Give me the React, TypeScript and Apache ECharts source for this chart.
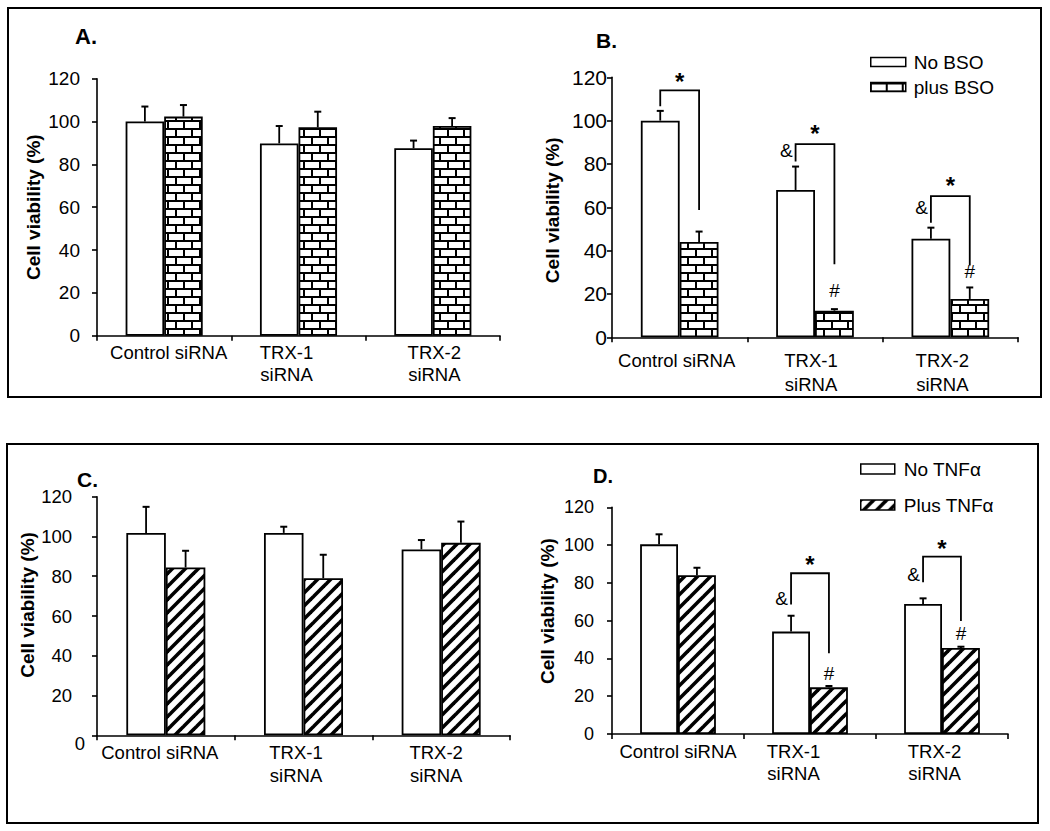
import React, { useEffect, useRef } from 'react';
import * as echarts from 'echarts';

const FONT = "'Liberation Sans', Arial, Helvetica, sans-serif";

const categories = ['Control siRNA', 'TRX-1\nsiRNA', 'TRX-2\nsiRNA'];

// Panel A (BSO, untreated comparison)
const aNoBSO = [100, 89.8, 87.5];
const aNoBSOErr = [107, 97.9, 91.1];
const aPlusBSO = [102.3, 97.3, 97.9];
const aPlusBSOErr = [107.7, 104.6, 101.6];

// Panel B
const bNoBSO = [100, 68, 45.5];
const bNoBSOErr = [104.5, 78.8, 50.6];
const bPlusBSO = [44, 12.3, 17.7];
const bPlusBSOErr = [48.8, 13, 23];
// brackets: [category, left leg bottom, top, right leg bottom]
const bBrackets = [[0, 106.6, 114, 58.8], [1, 81.1, 89.2, 33.7], [2, 52.9, 65.2, 33.1]];
const bStars = [[0, 120.4], [1, 96.5], [2, 72.6]];
const bAmps = [[1, 86], [2, 60]];
const bHashes = [[1, 21.8], [2, 30.3]];

// Panel C
const cNoTNF = [101.8, 101.8, 93.5];
const cNoTNFErr = [114.9, 104.9, 98.2];
const cPlusTNF = [84.4, 79, 96.8];
const cPlusTNFErr = [92.8, 90.8, 107.5];

// Panel D
const dNoTNF = [100.4, 54.2, 68.8];
const dNoTNFErr = [105.7, 62.6, 71.8];
const dPlusTNF = [84, 24.7, 45.5];
const dPlusTNFErr = [88, 25.4, 46.2];
const dBrackets = [[1, 68.6, 85.1, 42.7], [2, 80.3, 93.9, 59.8]];
const dStars = [[1, 92.5], [2, 100.6]];
const dAmps = [[1, 71.5], [2, 84.2]];
const dHashes = [[1, 31.8], [2, 53.3]];

const BAR_RATIO = 0.287;

function brickPattern(): any {
  const c = document.createElement('canvas');
  c.width = 16; c.height = 16;
  const g = c.getContext('2d')!;
  g.fillStyle = '#000'; g.fillRect(0, 0, 16, 16);
  g.fillStyle = '#fff';
  g.fillRect(1, 2, 14, 6);
  g.fillRect(9, 10, 7, 6);
  g.fillRect(0, 10, 7, 6);
  return { image: c, repeat: 'repeat', imageWidth: 16, imageHeight: 16 };
}

function hatchPattern(): any {
  const s = 13;
  const c = document.createElement('canvas');
  c.width = s; c.height = s;
  const g = c.getContext('2d')!;
  g.fillStyle = '#fff'; g.fillRect(0, 0, s, s);
  g.strokeStyle = '#000'; g.lineWidth = 3.6;
  for (const k of [-s, 0, s]) {
    g.beginPath(); g.moveTo(k - 2, s + 2); g.lineTo(k + s + 2, -2); g.stroke();
  }
  return { image: c, repeat: 'repeat', imageWidth: s, imageHeight: s };
}

function catLabel(shifts: number[], fontSize: number, lineHeight: number, margin: number) {
  const rich: any = {};
  shifts.forEach((s, i) => {
    rich['s' + i] = {
      fontSize, lineHeight, fontFamily: FONT, color: '#000',
      padding: s >= 0 ? [0, 0, 0, 2 * s] : [0, -2 * s, 0, 0],
    };
  });
  return {
    interval: 0, margin, color: '#000', fontSize, lineHeight, fontFamily: FONT,
    formatter: (v: string, i: number) => v.split('\n').map((l) => `{s${i}|${l}}`).join('\n'),
    rich,
  };
}

function xAxis(gi: number, label: any) {
  return {
    type: 'category', gridIndex: gi, data: categories, boundaryGap: true,
    axisLine: { show: true, lineStyle: { color: '#000', width: 1.6 } },
    axisTick: { show: true, length: 5, lineStyle: { color: '#000', width: 1.6 } },
    axisLabel: label,
    splitLine: { show: false },
  };
}

function yAxis(gi: number, label: any, nameGap: number, namePad: number[]) {
  return {
    type: 'value', gridIndex: gi, min: 0, max: 120, interval: 20,
    name: 'Cell viability (%)', nameLocation: 'middle', nameRotate: 90, nameGap,
    nameTextStyle: { fontFamily: FONT, fontWeight: 'bold', fontSize: 19, color: '#000', lineHeight: 20, padding: namePad },
    axisLine: { show: true, lineStyle: { color: '#000', width: 1.6 } },
    axisTick: { show: true, length: 5, lineStyle: { color: '#000', width: 1.6 } },
    axisLabel: label,
    splitLine: { show: false },
  };
}

function barSeries(gi: number, name: string, data: number[], color: any) {
  return {
    type: 'bar', name, xAxisIndex: gi, yAxisIndex: gi, data,
    barWidth: (BAR_RATIO * 100).toFixed(1) + '%', barGap: '0%',
    itemStyle: { color, borderColor: '#000', borderWidth: 1.8 },
    silent: true, z: 2,
  };
}

function errorSeries(gi: number, vals: number[], errs: number[], side: number) {
  return {
    type: 'custom', xAxisIndex: gi, yAxisIndex: gi, z: 5, silent: true,
    data: vals.map((v, i) => [i, v, errs[i]]),
    encode: { x: 0, y: [1, 2] },
    renderItem: (params: any, api: any) => {
      const c = api.coord([api.value(0), api.value(1)]);
      const t = api.coord([api.value(0), api.value(2)]);
      const bw = api.size([1, 0])[0] * BAR_RATIO;
      const x = c[0] + (side * bw) / 2;
      return {
        type: 'group',
        children: [
          { type: 'line', shape: { x1: x, y1: c[1], x2: x, y2: t[1] }, style: { stroke: '#000', lineWidth: 1.8 } },
          { type: 'line', shape: { x1: x - 3.5, y1: t[1], x2: x + 3.5, y2: t[1] }, style: { stroke: '#000', lineWidth: 2 } },
        ],
      };
    },
  };
}

function bracketSeries(gi: number, data: number[][]) {
  return {
    type: 'custom', xAxisIndex: gi, yAxisIndex: gi, z: 6, silent: true,
    data, encode: { x: 0, y: [1, 2, 3] },
    renderItem: (params: any, api: any) => {
      const cat = api.value(0);
      const bw = api.size([1, 0])[0] * BAR_RATIO;
      const pL = api.coord([cat, api.value(1)]);
      const pT = api.coord([cat, api.value(2)]);
      const pR = api.coord([cat, api.value(3)]);
      const xL = pL[0] - bw / 2;
      const xR = pL[0] + bw / 2;
      return {
        type: 'polyline',
        shape: { points: [[xL, pL[1]], [xL, pT[1]], [xR, pT[1]], [xR, pR[1]]] },
        style: { stroke: '#000', fill: 'none', lineWidth: 1.8 },
      };
    },
  };
}

function markSeries(gi: number, data: number[][], text: string, kind: 'star' | 'amp' | 'hash') {
  return {
    type: 'custom', xAxisIndex: gi, yAxisIndex: gi, z: 7, silent: true,
    data, encode: { x: 0, y: 1 },
    renderItem: (params: any, api: any) => {
      const p = api.coord([api.value(0), api.value(1)]);
      const bw = api.size([1, 0])[0] * BAR_RATIO;
      let x = p[0];
      let y = p[1];
      let align = 'center';
      if (kind === 'star') { y += 5; }
      if (kind === 'amp') { x = p[0] - bw / 2 - 3; align = 'right'; }
      if (kind === 'hash') { x = p[0] + bw / 2; }
      return {
        type: 'text',
        style: {
          text, x, y, align, verticalAlign: 'middle', fill: '#000',
          fontFamily: FONT, fontSize: kind === 'star' ? 24 : 19,
          fontWeight: kind === 'star' ? 'bold' : 'normal',
        },
      };
    },
  };
}

function yLabel(fontSize: number, margin: number) {
  return { color: '#000', fontSize, fontFamily: FONT, margin };
}

export default function App() {
  const ref = useRef<HTMLDivElement>(null);
  useEffect(() => {
    document.body.style.margin = '0';
    const chart = echarts.init(ref.current!, null, { renderer: 'svg' });
    const brick = brickPattern();
    const hatch = hatchPattern();

    const cYLabel = {
      color: '#000', fontSize: 18.5, fontFamily: FONT, margin: 12,
      formatter: (v: number) => (v === 0 ? '{z|0}' : `{n|${v}}`),
      rich: {
        n: { fontSize: 18.5, fontFamily: FONT, color: '#000', padding: [0, 13, 0, 0] },
        z: { fontSize: 18.5, fontFamily: FONT, color: '#000', padding: [16, 0, 0, 0] },
      },
    };

    const panelText = (text: string, x: number, y: number, size: number) => ({
      type: 'text', x, y,
      style: { text, fontFamily: FONT, fontWeight: 'bold', fontSize: size, fill: '#000', align: 'left', verticalAlign: 'middle' },
    });

    const legendCommon = {
      orient: 'vertical', icon: 'rect', selectedMode: false, padding: 0,
      itemStyle: { borderColor: '#000', borderWidth: 1.5 },
    };

    chart.setOption({
      animation: false,
      backgroundColor: '#fff',
      grid: [
        { left: 97, top: 78.7, width: 403, height: 257 },
        { left: 612, top: 77.3, width: 406, height: 260 },
        { left: 97, top: 496.7, width: 413, height: 238.6 },
        { left: 612, top: 507.3, width: 396, height: 226.7 },
      ],
      xAxis: [
        xAxis(0, catLabel([4.5, -12, 1.5], 18.5, 22, 6)),
        xAxis(1, catLabel([-3, -4, -8], 18.5, 23.5, 11.5)),
        xAxis(2, catLabel([-6, -7.5, -5], 18.5, 23, 5.5)),
        xAxis(3, catLabel([0, -16.5, -7.5], 18.5, 22, 6.5)),
      ],
      yAxis: [
        yAxis(0, yLabel(19, 17), 54, [0, 0, 0, 0]),
        yAxis(1, yLabel(21, 5), 50, [0, 6, 0, 0]),
        yAxis(2, cYLabel, 56, [0, 0, 0, 22]),
        yAxis(3, yLabel(18, 18), 55, [0, 0, 0, 19]),
      ],
      legend: [
        {
          ...legendCommon, data: ['No BSO', 'plus BSO'], left: 870, top: 52,
          itemWidth: 35, itemHeight: 9, itemGap: 5,
          textStyle: { fontFamily: FONT, fontSize: 19, color: '#000', lineHeight: 20, padding: [0, 0, 0, 3] },
        },
        {
          ...legendCommon, data: ['No TNFα', 'Plus TNFα'], left: 860, top: 459,
          itemWidth: 34, itemHeight: 10, itemGap: 16,
          textStyle: { fontFamily: FONT, fontSize: 19, color: '#000', lineHeight: 20, padding: [0, 0, 0, 4] },
        },
      ],
      graphic: [
        { type: 'rect', shape: { x: 8, y: 8, width: 1033, height: 389 }, style: { fill: 'none', stroke: '#000', lineWidth: 2 }, z: 0 },
        { type: 'rect', shape: { x: 7, y: 444, width: 1031, height: 379 }, style: { fill: 'none', stroke: '#000', lineWidth: 2 }, z: 0 },
        panelText('A.', 75, 36, 22),
        panelText('B.', 596, 40, 21),
        panelText('C.', 77, 479, 21),
        panelText('D.', 593, 476, 20),
      ],
      series: [
        barSeries(0, 'No BSO', aNoBSO, '#fff'),
        barSeries(0, 'plus BSO', aPlusBSO, brick),
        errorSeries(0, aNoBSO, aNoBSOErr, -1),
        errorSeries(0, aPlusBSO, aPlusBSOErr, 1),

        barSeries(1, 'No BSO', bNoBSO, '#fff'),
        barSeries(1, 'plus BSO', bPlusBSO, brick),
        errorSeries(1, bNoBSO, bNoBSOErr, -1),
        errorSeries(1, bPlusBSO, bPlusBSOErr, 1),
        bracketSeries(1, bBrackets),
        markSeries(1, bStars, '*', 'star'),
        markSeries(1, bAmps, '&', 'amp'),
        markSeries(1, bHashes, '#', 'hash'),

        barSeries(2, 'No TNFα', cNoTNF, '#fff'),
        barSeries(2, 'Plus TNFα', cPlusTNF, hatch),
        errorSeries(2, cNoTNF, cNoTNFErr, -1),
        errorSeries(2, cPlusTNF, cPlusTNFErr, 1),

        barSeries(3, 'No TNFα', dNoTNF, '#fff'),
        barSeries(3, 'Plus TNFα', dPlusTNF, hatch),
        errorSeries(3, dNoTNF, dNoTNFErr, -1),
        errorSeries(3, dPlusTNF, dPlusTNFErr, 1),
        bracketSeries(3, dBrackets),
        markSeries(3, dStars, '*', 'star'),
        markSeries(3, dAmps, '&', 'amp'),
        markSeries(3, dHashes, '#', 'hash'),
      ],
    });
    return () => chart.dispose();
  }, []);
  return <div ref={ref} style={{ width: 1050, height: 831, background: '#fff' }} />;
}
